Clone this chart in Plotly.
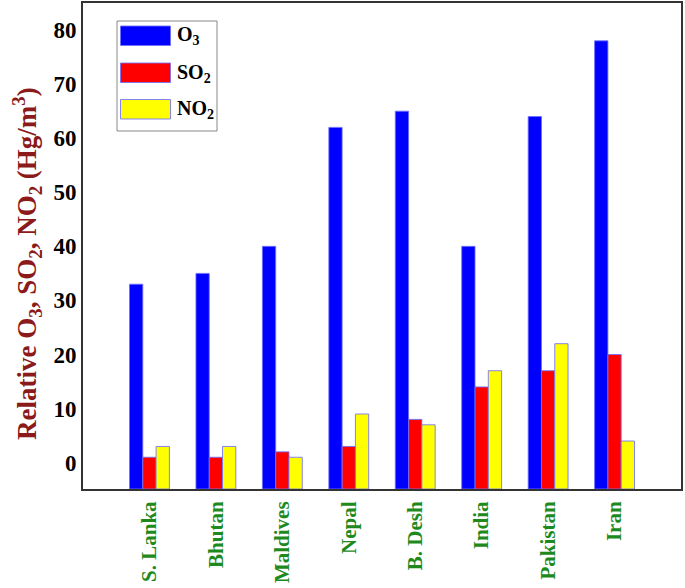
import plotly.graph_objects as go

countries = ["S. Lanka", "Bhutan", "Maldives", "Nepal", "B. Desh", "India", "Pakistan", "Iran"]
o3 = [33, 35, 40, 62, 65, 40, 64, 78]
so2 = [1, 1, 2, 3, 8, 14, 17, 20]
no2 = [3, 3, 1, 9, 7, 17, 22, 4]
series_names = ["O<sub>3</sub>", "SO<sub>2</sub>", "NO<sub>2</sub>"]
series_colors = ["#0000ff", "#ff0000", "#ffff00"]
y_ticks = [0, 10, 20, 30, 40, 50, 60, 70, 80]

Y_MIN, Y_MAX = -4.87, 85.0
W, H = 685, 588
ML, MR, MT, MB = 83, 4, 3, 99
PW, PH = W - ML - MR, H - MT - MB

def px_x(px):
    return (px - ML) / PW

def px_y(py):
    return (H - MB - py) / PH

fig = go.Figure()
for name, vals, col in zip(series_names, [o3, so2, no2], series_colors):
    fig.add_trace(go.Bar(
        x=countries,
        y=[v - Y_MIN for v in vals],
        base=Y_MIN,
        name=name,
        marker=dict(color=col, line=dict(color="rgba(110,110,255,0.85)", width=1)),
        customdata=vals,
        hovertemplate="%{x}: %{customdata}<extra></extra>",
        showlegend=False,
    ))

serif = "Liberation Serif"
fig.update_layout(
    width=W, height=H,
    margin=dict(l=ML, r=MR, t=MT, b=MB, autoexpand=False),
    paper_bgcolor="white", plot_bgcolor="white",
    barmode="group", bargap=0.4, bargroupgap=0,
    xaxis=dict(
        range=[-1, 8], showline=True, linecolor="#333", linewidth=2, mirror=True,
        ticks="", tickangle=-90, automargin=False, ticklabelstandoff=2,
        tickfont=dict(family=serif, size=21, color="#1e8a1e", weight="bold"),
        showgrid=False,
    ),
    yaxis=dict(
        range=[Y_MIN, Y_MAX], showline=True, linecolor="#333", linewidth=2, mirror=True,
        ticks="", tickvals=y_ticks, ticktext=[str(t) for t in y_ticks], automargin=False,
        tickfont=dict(family=serif, size=23, color="black", weight="bold"),
        showgrid=False, zeroline=False, ticklabelstandoff=0,
    ),
)

# Y axis title as annotation (positioned like the reference)
fig.add_annotation(
    xref="paper", yref="paper", x=px_x(27), y=px_y(264),
    xanchor="center", yanchor="middle",
    text="Relative O<sub>3</sub>, SO<sub>2</sub>, NO<sub>2</sub> (Hg/m<sup>3</sup>)",
    textangle=-90, showarrow=False,
    font=dict(family=serif, size=27, color="#8b1a1a", weight="bold"),
)

# Legend box
fig.add_shape(type="rect", xref="paper", yref="paper",
              x0=px_x(117), x1=px_x(217), y0=px_y(131), y1=px_y(21),
              line=dict(color="#888", width=1), fillcolor="white")
sw_tops = [26, 63, 99.5]
for top, name, col in zip(sw_tops, series_names, series_colors):
    fig.add_shape(type="rect", xref="paper", yref="paper",
                  x0=px_x(120.5), x1=px_x(170.5), y0=px_y(top + 19.5), y1=px_y(top),
                  line=dict(color="rgba(110,110,255,0.85)", width=1), fillcolor=col)
    fig.add_annotation(xref="paper", yref="paper", x=px_x(175), y=px_y(top + 10),
                       xanchor="left", yanchor="middle", showarrow=False, text=name,
                       font=dict(family=serif, size=20, color="black", weight="bold"))

fig.write_html("out.html", post_script="document.body.style.margin='0';",
               config={"displayModeBar": False})
